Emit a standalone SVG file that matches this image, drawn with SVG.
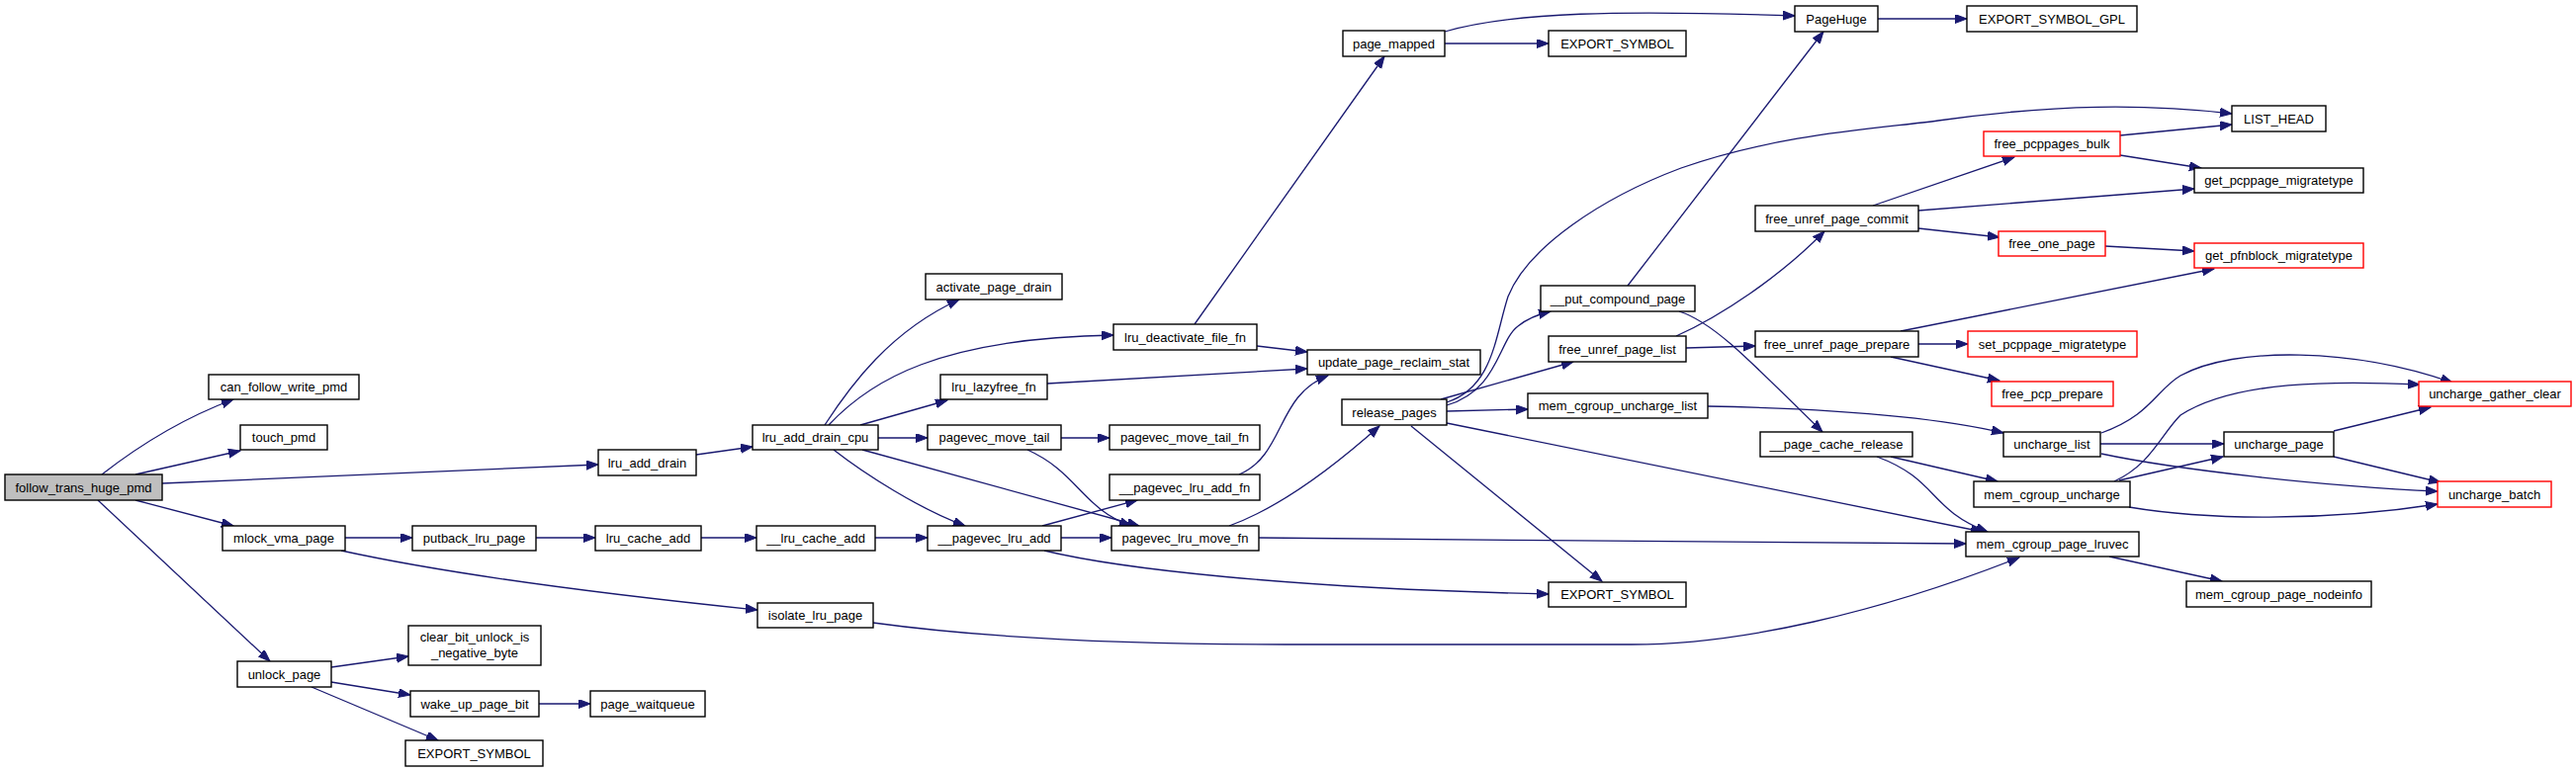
<svg xmlns="http://www.w3.org/2000/svg" width="2605" height="781" viewBox="0 0 2605 781">
<style>
.n rect{fill:#fff;stroke:#000;stroke-width:1.4}
.n.red rect{stroke:#f00}
.n.root rect{fill:#bfbfbf}
.n text{font-family:"Liberation Sans",Arial,sans-serif;font-size:13px;text-anchor:middle;fill:#000}
#edges path{fill:none;stroke:#191970;stroke-width:1.3;marker-end:url(#arr)}
</style>
<defs>
<marker id="arr" markerUnits="userSpaceOnUse" markerWidth="13" markerHeight="10" refX="12" refY="4.5" orient="auto">
<path d="M0,0 L12,4.5 L0,9 z" fill="#191970" stroke="#191970" stroke-width="1"/>
</marker>
</defs>
<rect width="2605" height="781" fill="#fff"/>
<g id="edges">
<path d="M103,480 C135,455 180,425 236,404"/>
<path d="M137,480 L243,456"/>
<path d="M164,489 L605,470"/>
<path d="M137,506 L236,532"/>
<path d="M99,506 L273,669"/>
<path d="M349,544 L417,544"/>
<path d="M345,557 C450,580 600,600 766,617"/>
<path d="M542,544 L602,544"/>
<path d="M709,544 L765,544"/>
<path d="M885,544 L938,544"/>
<path d="M335,675 L413,664"/>
<path d="M335,690 L415,703"/>
<path d="M315,695 L443,749"/>
<path d="M545,712 L597,712"/>
<path d="M704,460 L761,452"/>
<path d="M834,430 C860,390 900,335 970,303"/>
<path d="M838,430 C880,385 950,342 1126,339"/>
<path d="M870,430 L958,405"/>
<path d="M888,443 L938,443"/>
<path d="M843,455 C875,480 930,515 976,532"/>
<path d="M872,455 L1152,532"/>
<path d="M1073,443 L1122,443"/>
<path d="M1039,455 C1090,478 1095,515 1144,532"/>
<path d="M1054,532 L1150,506"/>
<path d="M1073,544 L1124,544"/>
<path d="M1056,557 C1130,575 1300,595 1566,601"/>
<path d="M1253,480 C1300,460 1290,400 1343,380"/>
<path d="M1208,328 L1400,57"/>
<path d="M1271,350 L1322,356"/>
<path d="M1059,388 L1322,373"/>
<path d="M1243,532 C1290,515 1340,480 1395,431"/>
<path d="M1273,544 C1500,546 1800,549 1988,550"/>
<path d="M883,630 C1000,646 1150,652 1300,652 L1650,652 C1760,652 1900,620 2042,564"/>
<path d="M1461,32 C1530,12 1640,10 1815,16"/>
<path d="M1461,44 L1566,44"/>
<path d="M1899,19 L1989,19"/>
<path d="M1463,407 C1510,392 1512,340 1525,300 C1545,250 1620,200 1700,170 C1800,135 1900,130 1960,122 C2080,105 2170,105 2257,115"/>
<path d="M1463,410 C1515,395 1515,345 1535,330 C1545,322 1555,318 1568,315"/>
<path d="M1457,404 L1591,366"/>
<path d="M1463,416 L1545,414"/>
<path d="M1427,431 L1620,588"/>
<path d="M1463,428 L2005,538"/>
<path d="M1646,289 L1844,32"/>
<path d="M1698,315 C1730,325 1760,355 1843,437"/>
<path d="M1695,340 C1740,320 1800,280 1845,234"/>
<path d="M1705,352 L1775,350"/>
<path d="M1894,208 L2037,159"/>
<path d="M1940,213 L2219,191"/>
<path d="M1940,231 L2022,240"/>
<path d="M2144,137 L2257,126"/>
<path d="M2144,157 L2226,170"/>
<path d="M2129,249 L2219,254"/>
<path d="M1922,335 L2239,272"/>
<path d="M1940,348 L1990,348"/>
<path d="M1912,361 L2022,385"/>
<path d="M1727,411 C1830,413 1950,420 2026,438"/>
<path d="M1912,462 L2020,487"/>
<path d="M1898,462 C1960,485 1950,515 2010,538"/>
<path d="M2125,438 C2175,420 2180,395 2205,380 C2260,350 2380,352 2480,387"/>
<path d="M2124,449 L2249,449"/>
<path d="M2125,459 C2200,475 2350,492 2465,497"/>
<path d="M2138,487 C2175,470 2185,440 2205,420 C2260,385 2360,385 2447,389"/>
<path d="M2143,486 L2248,462"/>
<path d="M2153,513 C2230,526 2350,528 2465,510"/>
<path d="M2360,436 L2458,412"/>
<path d="M2360,462 L2468,488"/>
<path d="M2133,563 L2247,588"/>
</g>
<g id="follow_trans_huge_pmd" class="n root"><rect x="5" y="480" width="159" height="26"/><text x="84.5" y="497.5">follow_trans_huge_pmd</text></g>
<g id="can_follow_write_pmd" class="n"><rect x="211" y="379" width="152" height="25"/><text x="287" y="396">can_follow_write_pmd</text></g>
<g id="touch_pmd" class="n"><rect x="243" y="430" width="88" height="25"/><text x="287" y="447">touch_pmd</text></g>
<g id="mlock_vma_page" class="n"><rect x="225" y="532" width="124" height="25"/><text x="287" y="549">mlock_vma_page</text></g>
<g id="unlock_page" class="n"><rect x="240" y="669" width="95" height="26"/><text x="287.5" y="686.5">unlock_page</text></g>
<g id="lru_add_drain" class="n"><rect x="605" y="455" width="99" height="26"/><text x="654.5" y="472.5">lru_add_drain</text></g>
<g id="putback_lru_page" class="n"><rect x="417" y="532" width="125" height="25"/><text x="479.5" y="549">putback_lru_page</text></g>
<g id="clear_bit_unlock_is_negative_byte" class="n"><rect x="413" y="633" width="134" height="40"/><text x="480" y="649">clear_bit_unlock_is</text><text x="480" y="665">_negative_byte</text></g>
<g id="wake_up_page_bit" class="n"><rect x="415" y="699" width="130" height="26"/><text x="480" y="716.5">wake_up_page_bit</text></g>
<g id="EXPORT_SYMBOL_1" class="n"><rect x="410" y="749" width="139" height="26"/><text x="479.5" y="766.5">EXPORT_SYMBOL</text></g>
<g id="lru_cache_add" class="n"><rect x="602" y="532" width="107" height="25"/><text x="655.5" y="549">lru_cache_add</text></g>
<g id="page_waitqueue" class="n"><rect x="597" y="699" width="116" height="26"/><text x="655" y="716.5">page_waitqueue</text></g>
<g id="lru_add_drain_cpu" class="n"><rect x="761" y="430" width="127" height="25"/><text x="824.5" y="447">lru_add_drain_cpu</text></g>
<g id="__lru_cache_add" class="n"><rect x="765" y="532" width="120" height="25"/><text x="825" y="549">__lru_cache_add</text></g>
<g id="isolate_lru_page" class="n"><rect x="766" y="610" width="117" height="25"/><text x="824.5" y="627">isolate_lru_page</text></g>
<g id="activate_page_drain" class="n"><rect x="936" y="277" width="138" height="26"/><text x="1005" y="294.5">activate_page_drain</text></g>
<g id="lru_lazyfree_fn" class="n"><rect x="951" y="379" width="108" height="25"/><text x="1005" y="396">lru_lazyfree_fn</text></g>
<g id="pagevec_move_tail" class="n"><rect x="938" y="430" width="135" height="25"/><text x="1005.5" y="447">pagevec_move_tail</text></g>
<g id="__pagevec_lru_add" class="n"><rect x="938" y="532" width="135" height="25"/><text x="1005.5" y="549">__pagevec_lru_add</text></g>
<g id="lru_deactivate_file_fn" class="n"><rect x="1126" y="328" width="145" height="26"/><text x="1198.5" y="345.5">lru_deactivate_file_fn</text></g>
<g id="pagevec_move_tail_fn" class="n"><rect x="1122" y="430" width="152" height="25"/><text x="1198" y="447">pagevec_move_tail_fn</text></g>
<g id="__pagevec_lru_add_fn" class="n"><rect x="1122" y="480" width="152" height="26"/><text x="1198" y="497.5">__pagevec_lru_add_fn</text></g>
<g id="pagevec_lru_move_fn" class="n"><rect x="1124" y="532" width="149" height="25"/><text x="1198.5" y="549">pagevec_lru_move_fn</text></g>
<g id="update_page_reclaim_stat" class="n"><rect x="1322" y="354" width="175" height="25"/><text x="1409.5" y="371">update_page_reclaim_stat</text></g>
<g id="page_mapped" class="n"><rect x="1358" y="31" width="103" height="26"/><text x="1409.5" y="48.5">page_mapped</text></g>
<g id="release_pages" class="n"><rect x="1357" y="404" width="106" height="26"/><text x="1410" y="421.5">release_pages</text></g>
<g id="EXPORT_SYMBOL_2" class="n"><rect x="1566" y="31" width="139" height="26"/><text x="1635.5" y="48.5">EXPORT_SYMBOL</text></g>
<g id="__put_compound_page" class="n"><rect x="1558" y="289" width="156" height="26"/><text x="1636" y="306.5">__put_compound_page</text></g>
<g id="free_unref_page_list" class="n"><rect x="1566" y="340" width="139" height="26"/><text x="1635.5" y="357.5">free_unref_page_list</text></g>
<g id="mem_cgroup_uncharge_list" class="n"><rect x="1545" y="398" width="182" height="25"/><text x="1636" y="415">mem_cgroup_uncharge_list</text></g>
<g id="EXPORT_SYMBOL_3" class="n"><rect x="1566" y="589" width="139" height="25"/><text x="1635.5" y="606">EXPORT_SYMBOL</text></g>
<g id="PageHuge" class="n"><rect x="1815" y="6" width="84" height="26"/><text x="1857" y="23.5">PageHuge</text></g>
<g id="free_unref_page_commit" class="n"><rect x="1775" y="208" width="165" height="26"/><text x="1857.5" y="225.5">free_unref_page_commit</text></g>
<g id="free_unref_page_prepare" class="n"><rect x="1775" y="335" width="165" height="26"/><text x="1857.5" y="352.5">free_unref_page_prepare</text></g>
<g id="__page_cache_release" class="n"><rect x="1780" y="437" width="154" height="25"/><text x="1857" y="454">__page_cache_release</text></g>
<g id="EXPORT_SYMBOL_GPL" class="n"><rect x="1989" y="6" width="172" height="26"/><text x="2075" y="23.5">EXPORT_SYMBOL_GPL</text></g>
<g id="free_pcppages_bulk" class="n red"><rect x="2006" y="133" width="138" height="25"/><text x="2075" y="150">free_pcppages_bulk</text></g>
<g id="free_one_page" class="n red"><rect x="2021" y="234" width="108" height="25"/><text x="2075" y="251">free_one_page</text></g>
<g id="set_pcppage_migratetype" class="n red"><rect x="1990" y="335" width="171" height="26"/><text x="2075.5" y="352.5">set_pcppage_migratetype</text></g>
<g id="free_pcp_prepare" class="n red"><rect x="2014" y="386" width="123" height="25"/><text x="2075.5" y="403">free_pcp_prepare</text></g>
<g id="uncharge_list" class="n"><rect x="2026" y="437" width="98" height="25"/><text x="2075" y="454">uncharge_list</text></g>
<g id="mem_cgroup_uncharge" class="n"><rect x="1996" y="487" width="158" height="26"/><text x="2075" y="504.5">mem_cgroup_uncharge</text></g>
<g id="mem_cgroup_page_lruvec" class="n"><rect x="1988" y="538" width="175" height="25"/><text x="2075.5" y="555">mem_cgroup_page_lruvec</text></g>
<g id="LIST_HEAD" class="n"><rect x="2257" y="107" width="95" height="26"/><text x="2304.5" y="124.5">LIST_HEAD</text></g>
<g id="get_pcppage_migratetype" class="n"><rect x="2219" y="170" width="171" height="25"/><text x="2304.5" y="187">get_pcppage_migratetype</text></g>
<g id="get_pfnblock_migratetype" class="n red"><rect x="2219" y="246" width="171" height="25"/><text x="2304.5" y="263">get_pfnblock_migratetype</text></g>
<g id="uncharge_page" class="n"><rect x="2249" y="437" width="111" height="25"/><text x="2304.5" y="454">uncharge_page</text></g>
<g id="mem_cgroup_page_nodeinfo" class="n"><rect x="2211" y="588" width="187" height="26"/><text x="2304.5" y="605.5">mem_cgroup_page_nodeinfo</text></g>
<g id="uncharge_gather_clear" class="n red"><rect x="2446" y="386" width="154" height="25"/><text x="2523" y="403">uncharge_gather_clear</text></g>
<g id="uncharge_batch" class="n red"><rect x="2465" y="487" width="115" height="26"/><text x="2522.5" y="504.5">uncharge_batch</text></g>
</svg>
